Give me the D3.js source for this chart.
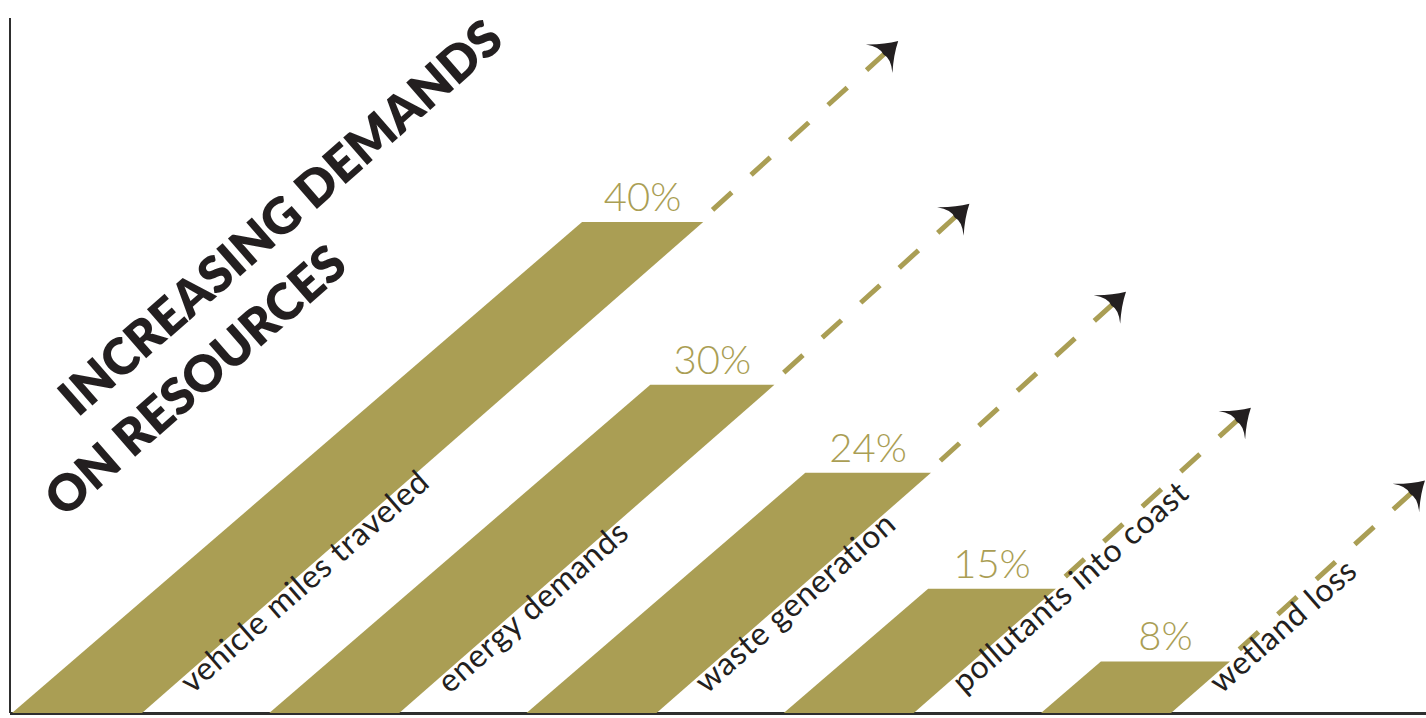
<!DOCTYPE html>
<html>
<head>
<meta charset="utf-8">
<script src="https://cdn.jsdelivr.net/npm/d3@7/dist/d3.min.js"></script>
<style>
  html, body { margin: 0; padding: 0; background: #ffffff; }
  svg { display: block; }
</style>
</head>
<body>
<svg id="chart" width="1426" height="718"></svg>
<script>
// ---- data ----
const categories = ["vehicle miles traveled", "energy demands", "waste generation", "pollutants into coast", "wetland loss"];
const values = [40, 30, 24, 15, 8];
const valueLabels = ["40%", "30%", "24%", "15%", "8%"];
const titleLines = ["INCREASING DEMANDS", "ON RESOURCES"];

// ---- style / layout ----
const W = 1426, H = 718;
const GOLD = "#aa9e54";
const INK = "#231f20";
const AXIS = "#2e2e2e";
const baseY = 713;
const leanL = 1.161, leanR = 1.143, botW = 130;

const svg = d3.select("#chart");

const x = d3.scalePoint().domain(categories).range([12, 1041]);
const h = d3.scalePow().exponent(1.4).domain([0, 40]).range([0, 491]);

const data = categories.map((c, i) => ({ cat: c, value: values[i], label: valueLabels[i] }));

function geom(d) {
  const x0 = x(d.cat), hh = h(d.value);
  const bl = [x0, baseY], br = [x0 + botW, baseY];
  const tl = [x0 + leanL * hh, baseY - hh];
  const tr = [x0 + botW + leanR * hh, baseY - hh];
  return { bl, br, tl, tr, hh };
}

// axes
const yAxisScale = d3.scaleLinear().domain([0, 1]).range([baseY, 18]);
const xAxisScale = d3.scaleLinear().domain([0, 1]).range([10, W]);
svg.append("line").attr("x1", 10).attr("x2", 10)
  .attr("y1", yAxisScale(0)).attr("y2", yAxisScale(1))
  .attr("stroke", AXIS).attr("stroke-width", 2);
svg.append("line").attr("x1", xAxisScale(0)).attr("x2", xAxisScale(1))
  .attr("y1", baseY + 0.5).attr("y2", baseY + 0.5)
  .attr("stroke", AXIS).attr("stroke-width", 3);

// bars
svg.append("g").selectAll("path").data(data).join("path")
  .attr("d", d => { const g = geom(d); return "M" + [g.bl, g.br, g.tr, g.tl].map(p => p.join(",")).join("L") + "Z"; })
  .attr("fill", GOLD);

// arrows
const arrowVec = [195, -181];
const alen = Math.hypot(arrowVec[0], arrowVec[1]);
const ang = Math.atan2(arrowVec[1], arrowVec[0]) * 180 / Math.PI;
const ag = svg.append("g");
data.forEach(d => {
  const g = geom(d);
  const start = [g.tr[0] - 4, g.tr[1]];
  const tip = [g.tr[0] + arrowVec[0], g.tr[1] + arrowVec[1]];
  const ux = arrowVec[0] / alen, uy = arrowVec[1] / alen;
  const end = [tip[0] - ux * 18, tip[1] - uy * 18];
  ag.append("line")
    .attr("x1", start[0]).attr("y1", start[1]).attr("x2", end[0]).attr("y2", end[1])
    .attr("stroke", GOLD).attr("stroke-width", 5)
    .attr("stroke-dasharray", "26 26").attr("stroke-dashoffset", 34);
  ag.append("path")
    .attr("d", "M0,0 Q-13,-7 -26,-19.5 Q-17,-8 -20,0 Q-17,8 -26,19.5 Q-13,7 0,0 Z")
    .attr("transform", `translate(${tip[0]},${tip[1]}) rotate(${ang})`)
    .attr("fill", INK);
});

// value labels
svg.append("g").selectAll("text").data(data).join("text")
  .attr("x", d => { const g = geom(d); return (g.tl[0] + g.tr[0]) / 2; })
  .attr("y", d => geom(d).tl[1] - 11)
  .attr("text-anchor", "middle")
  .attr("font-family", "Lato, 'Noto Sans', sans-serif")
  .attr("font-weight", 300)
  .attr("font-size", 40)
  .attr("fill", GOLD)
  .text(d => d.label);

// category labels along the slanted edges
const edgeAng = -Math.atan2(1, leanR) * 180 / Math.PI;
const un = Math.hypot(leanR, 1);
const u = [leanR / un, -1 / un], n = [1 / un, leanR / un];
const s = 50, p = 19;
svg.append("g").selectAll("text").data(data).join("text")
  .attr("transform", d => {
    const g = geom(d);
    const ax = g.br[0] + s * u[0] + p * n[0];
    const ay = g.br[1] + s * u[1] + p * n[1];
    return `translate(${ax},${ay}) rotate(${edgeAng})`;
  })
  .attr("font-family", "Lato, 'Noto Sans', sans-serif")
  .attr("font-weight", 400)
  .attr("font-size", 32)
  .attr("letter-spacing", 0.8)
  .attr("fill", INK)
  .text(d => d.cat);

// title
const titleAnchors = [[78, 418], [64, 519]];
svg.append("g").selectAll("text").data(titleLines).join("text")
  .attr("transform", (t, i) => `translate(${titleAnchors[i][0]},${titleAnchors[i][1]}) rotate(${edgeAng})`)
  .attr("font-family", "Lato, 'Noto Sans', sans-serif")
  .attr("font-weight", 800)
  .attr("font-size", 50)
  .attr("fill", INK)
  .text(t => t);
</script>
</body>
</html>
